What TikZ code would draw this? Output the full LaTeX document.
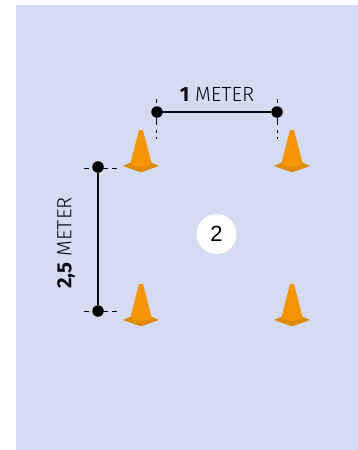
\documentclass[tikz,border=0pt]{standalone}
\usepackage{fontspec}
\setmainfont{Fira Sans}[UprightFont=* Light,BoldFont=* Bold]
\newfontfamily\badgefont{Liberation Sans}
\definecolor{panel}{HTML}{D5DBF0}
\definecolor{coneA}{HTML}{F59505}
\definecolor{coneB}{HTML}{DE8A0C}
\definecolor{ink}{HTML}{0B0B14}
\tikzset{
  dot/.style={circle,fill=black,draw=none,minimum size=11.5pt,inner sep=0pt},
  link/.style={draw=ink,line width=1.3pt},
  tick/.style={draw=ink,line width=1pt},
  lab/.style={font=\fontsize{20.5pt}{23pt}\selectfont,text=ink,inner sep=0pt},
  badge/.style={circle,fill=white,minimum size=40pt,inner sep=0pt,font=\badgefont\fontsize{22pt}{24pt}\selectfont,text=black}
}
\newcommand{\cone}[2]{%
  \begin{scope}[shift={(#1,#2)}]
    \fill[coneB] (-18,36) -- (-9,32) -- (9,32) -- (18,36) -- (1,42) -- (-1,42) -- cycle;
    \fill[coneA] (-2,0) -- (2,0) -- (10.5,33) .. controls (7,38.5) and (-7,38.5) .. (-10.5,33) -- cycle;
  \end{scope}}
\begin{document}
\begin{tikzpicture}[x=1pt,y=-1pt]
\useasboundingbox (0,0) rectangle (358,450);
\fill[panel] (16,5) rectangle (358,450);
\cone{141}{130}
\cone{292}{130}
\cone{141}{284}
\cone{292}{284}
\node[dot] (a) at (157,112) {};
\node[dot] (b) at (277,112) {};
\node[dot] (c) at (98,167) {};
\node[dot] (d) at (98,311) {};
\draw[link] (a) -- (b);
\draw[link] (c) -- (d);
\foreach \x in {156.5,277}{
  \draw[tick] (\x,99) -- (\x,103);
  \draw[tick] (\x,118) -- (\x,125);
  \draw[tick] (\x,130) -- (\x,133);
  \draw[tick] (\x,136.5) -- (\x,138.5);
}
\foreach \y in {168,311.5}{
  \draw[tick] (84,\y) -- (89,\y);
  \draw[tick] (103,\y) -- (108,\y);
  \draw[tick] (112,\y) -- (117,\y);
}
\node[lab] (t1) at (217,94) {\textbf{1} METER};
\node[lab,rotate=90] (t2) at (66,243) {\textbf{2,5} METER};
\node[badge] (n) at (216.5,234) {2};
\end{tikzpicture}
\end{document}
